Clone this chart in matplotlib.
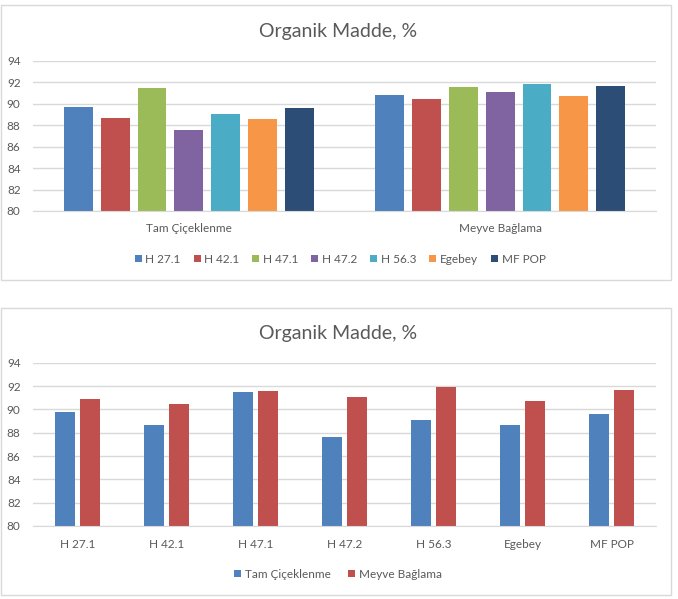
import numpy as np
import matplotlib
matplotlib.use('Agg')
import matplotlib.pyplot as plt
from matplotlib.patches import Rectangle

plt.rcParams['font.family'] = ['Lato', 'DejaVu Sans']

# Datos
hibridos = ['H 27.1', 'H 42.1', 'H 47.1', 'H 47.2', 'H 56.3', 'Egebey', 'MF POP']
donemler = ['Tam Çiçeklenme', 'Meyve Bağlama']
tam_ciceklenme = [89.75, 88.68, 91.48, 87.60, 89.10, 88.62, 89.62]
meyve_baglama = [90.86, 90.49, 91.56, 91.10, 91.89, 90.75, 91.64]

renkler = ['#4F81BD', '#C0504D', '#9BBB59', '#8064A2', '#4BACC6', '#F79646', '#2C4D75']
gri_texto = '#595959'
gri_linea = '#D9D9D9'

W, H = 678, 599
fig = plt.figure(figsize=(W / 100, H / 100), dpi=100)


def px(x0, y0, x1, y1):
    # convierte pixeles (arriba-izquierda) a fraccion de figura
    return [x0 / W, 1 - y1 / H, (x1 - x0) / W, (y1 - y0) / H]


def estilo_eje(ax):
    ax.set_ylim(80, 94)
    ax.set_yticks(np.arange(80, 95, 2))
    ax.yaxis.grid(True, color=gri_linea, linewidth=1)
    ax.set_axisbelow(True)
    for s in ['top', 'right', 'left']:
        ax.spines[s].set_visible(False)
    ax.spines['bottom'].set_color(gri_linea)
    ax.tick_params(axis='both', length=0, labelsize=8.5, labelcolor=gri_texto)
    ax.tick_params(axis='y', pad=9)
    ax.tick_params(axis='x', pad=9)


# Cajas de cada grafico
fig.patches.append(Rectangle((0.5 / W, 1 - 280 / H), 670.5 / W, 275 / H, transform=fig.transFigure,
                             fill=False, edgecolor=gri_linea, linewidth=1))
fig.patches.append(Rectangle((0.5 / W, 1 - 595 / H), 670.5 / W, 287 / H, transform=fig.transFigure,
                             fill=False, edgecolor=gri_linea, linewidth=1))

# Grafico 1: agrupado por estadio
ax1 = fig.add_axes(px(33, 61, 656, 211))
x1 = np.arange(len(donemler))
paso = 0.118
ancho = 0.093
for i, h in enumerate(hibridos):
    vals = [tam_ciceklenme[i], meyve_baglama[i]]
    ax1.bar(x1 + (i - 3) * paso, vals, width=ancho, color=renkler[i], label=h)
ax1.set_xlim(-0.5, 1.5)
ax1.set_xticks(x1)
ax1.set_xticklabels(donemler)
estilo_eje(ax1)
fig.text(338 / W, 1 - 32 / H, 'Organik Madde, %', ha='center', va='center', fontsize=14, color=gri_texto)
fig.legend(*ax1.get_legend_handles_labels(), loc='center', bbox_to_anchor=(340 / W, 1 - 259 / H),
           ncol=7, frameon=False, fontsize=8.5, handlelength=0.6, handleheight=0.6, handletextpad=0.3,
           columnspacing=1.1, labelcolor=gri_texto)

# Grafico 2: agrupado por hibrido
ax2 = fig.add_axes(px(33, 362.7, 656, 526))
x2 = np.arange(len(hibridos))
ax2.bar(x2 - 0.142, tam_ciceklenme, width=0.22, color=renkler[0], label=donemler[0])
ax2.bar(x2 + 0.142, meyve_baglama, width=0.22, color=renkler[1], label=donemler[1])
ax2.set_xlim(-0.5, len(hibridos) - 0.5)
ax2.set_xticks(x2)
ax2.set_xticklabels(hibridos)
estilo_eje(ax2)
fig.text(338 / W, 1 - 333 / H, 'Organik Madde, %', ha='center', va='center', fontsize=14, color=gri_texto)
fig.legend(*ax2.get_legend_handles_labels(), loc='center', bbox_to_anchor=(338 / W, 1 - 574 / H),
           ncol=2, frameon=False, fontsize=8.5, handlelength=0.6, handleheight=0.6, handletextpad=0.3,
           columnspacing=1.5, labelcolor=gri_texto)

fig.savefig('out.png', dpi=100)
